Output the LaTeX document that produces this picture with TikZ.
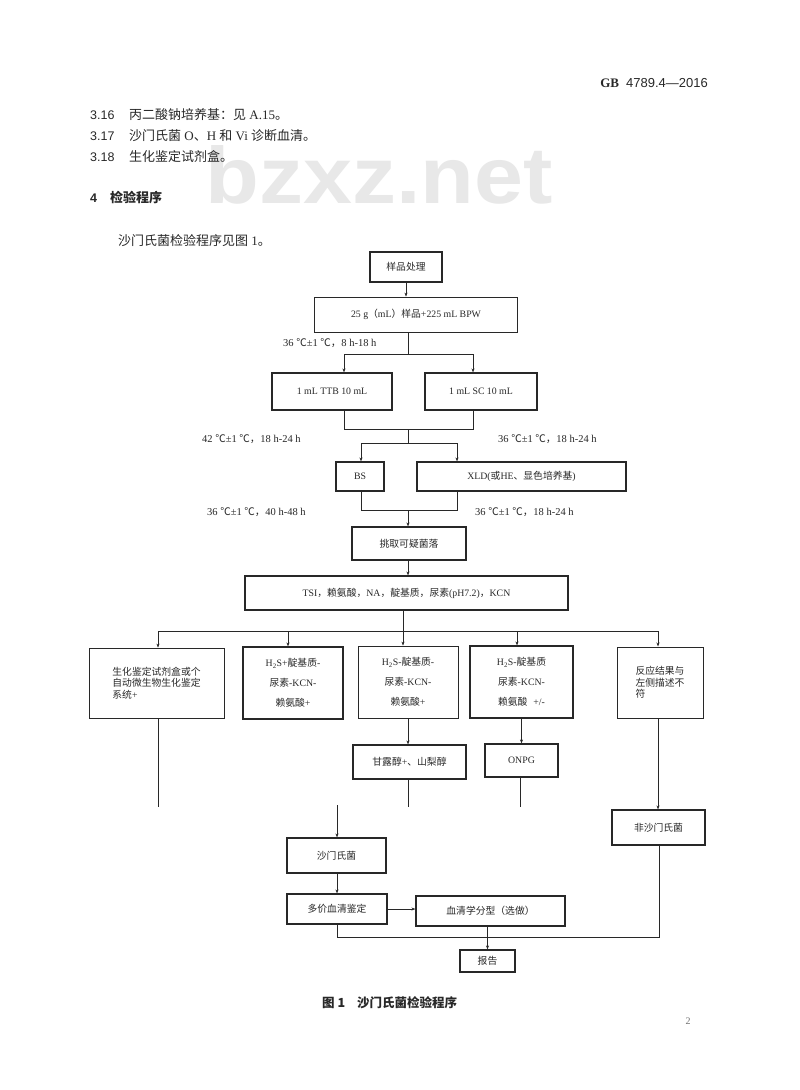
\documentclass[tikz,border=0pt]{standalone}
\usepackage{fontspec}
\setmainfont{Liberation Serif}
\newfontfamily\cjk{Noto Sans CJK SC}
\newfontfamily\arialf{Liberation Sans}
\newcommand\zh[1]{{\cjk #1}}
\usetikzlibrary{arrows.meta}
\definecolor{wm}{RGB}{232,232,232}
\definecolor{ink}{RGB}{40,40,40}
\begin{document}
\begin{tikzpicture}[x=1pt,y=-1pt,
  box/.style={draw=ink, line width=1.2pt, inner sep=1pt, align=center, text=ink,
              font=\fontsize{9.8}{11.5}\selectfont},
  tbox/.style={box, line width=0.8pt},
  tall/.style={font=\fontsize{9.8}{20}\selectfont},
  conn/.style={draw=ink, line width=0.6pt},
  arr/.style={conn, -{Stealth[length=4pt,width=3pt]}},
  lbl/.style={font=\fontsize{10.5}{11}\selectfont, text=ink, inner sep=0pt, anchor=west},
  body/.style={anchor=base west, inner sep=0pt, text=ink, font=\fontsize{13}{13}\selectfont},
  num/.style={anchor=base west, inner sep=0pt, text=ink, font=\arialf\fontsize{12.5}{13}\selectfont},
]
\useasboundingbox[fill=white] (0,0) rectangle (800,1090);

% watermark
\node[anchor=base, inner sep=0pt, text=wm, font=\arialf\bfseries\fontsize{80}{80}\selectfont] (wmk) at (379,203) {\scalebox{1.1}[1]{bzxz.net}};

% header
\node[anchor=base east, inner sep=0pt, text=ink] (hdr) at (708,87) {{\fontsize{13}{13}\selectfont\bfseries GB}\hspace{7pt}{\arialf\fontsize{13}{13}\selectfont 4789.4—2016}};

% section text
\node[num] (n316) at (90,119) {3.16};
\node[body] (t316) at (129,119) {\zh{丙二酸钠培养基：见} A.15\zh{。}};
\node[num] (n317) at (90,140) {3.17};
\node[body] (t317) at (129,140) {\zh{沙门氏菌} O\zh{、}H \zh{和} Vi \zh{诊断血清。}};
\node[num] (n318) at (90,161) {3.18};
\node[body] (t318) at (129,161) {\zh{生化鉴定试剂盒。}};
\node[num, font=\arialf\bfseries\fontsize{12.5}{13}\selectfont] (n4) at (90,202) {4};
\node[body, font=\cjk\bfseries\fontsize{13}{13}\selectfont] (t4) at (110,202) {检验程序};
\node[body] (tref) at (118,245) {\zh{沙门氏菌检验程序见图} 1\zh{。}};

% boxes
\node[box, minimum width=72pt, minimum height=30pt] (prep) at (406,267) {\zh{样品处理}};
\node[tbox, minimum width=203pt, minimum height=35pt] (sample) at (416,314.5) {25 g\zh{（}mL\zh{）样品}+225 mL BPW};
\node[box, minimum width=120pt, minimum height=37pt] (ttb) at (332,391.5) {1 mL TTB 10 mL};
\node[box, minimum width=112pt, minimum height=37pt] (sc) at (481,391.5) {1 mL SC 10 mL};
\node[box, minimum width=48pt, minimum height=29pt] (bs) at (360,476.5) {BS};
\node[box, minimum width=209pt, minimum height=29pt] (xld) at (521.5,476.5) {XLD(\zh{或}HE\zh{、显色培养基})};
\node[box, minimum width=114pt, minimum height=33pt] (pick) at (409,543.5) {\zh{挑取可疑菌落}};
\node[box, minimum width=323pt, minimum height=34pt] (tsi) at (406.5,593) {TSI\zh{，赖氨酸，}NA\zh{，靛基质，尿素}(pH7.2)\zh{，}KCN};

\node[tbox, minimum width=135pt, minimum height=70pt, align=left] (box1) at (156.5,683) {\zh{生化鉴定试剂盒或个}\\\zh{自动微生物生化鉴定}\\\zh{系统}+};
\node[box, tall, minimum width=100pt, minimum height=72pt] (box2) at (293,683) {H\textsubscript{2}S+\zh{靛基质}-\\\zh{尿素}-KCN-\\\zh{赖氨酸}+};
\node[tbox, tall, minimum width=100pt, minimum height=72pt] (box3) at (408,682) {H\textsubscript{2}S-\zh{靛基质}-\\\zh{尿素}-KCN-\\\zh{赖氨酸}+};
\node[box, tall, minimum width=103pt, minimum height=72pt] (box4) at (521.5,682) {H\textsubscript{2}S-\zh{靛基质}\\\zh{尿素}-KCN-\\\zh{赖氨酸}\hspace{6pt}+/-};
\node[box, line width=1pt, minimum width=86pt, minimum height=71pt, align=left] (box5) at (660,682.5) {\zh{反应结果与}\\\zh{左侧描述不}\\\zh{符}};

\node[box, minimum width=113pt, minimum height=34pt] (mann) at (409.5,762) {\zh{甘露醇}+\zh{、山梨醇}};
\node[box, minimum width=73pt, minimum height=33pt] (onpg) at (521.5,760.5) {ONPG};
\node[box, minimum width=93pt, minimum height=35pt] (non) at (658.5,827.5) {\zh{非沙门氏菌}};
\node[box, minimum width=99pt, minimum height=35pt] (salm) at (336.5,855.5) {\zh{沙门氏菌}};
\node[box, minimum width=100pt, minimum height=30pt] (poly) at (337,909) {\zh{多价血清鉴定}};
\node[box, minimum width=149pt, minimum height=30pt] (sero) at (490.5,911) {\zh{血清学分型（选做）}};
\node[box, minimum width=55pt, minimum height=22pt] (report) at (487.5,961) {\zh{报告}};

% condition labels
\node[lbl] (c1) at (283,343) {36 \zh{℃}±1 \zh{℃，}8 h-18 h};
\node[lbl] (c2) at (202,439) {42 \zh{℃}±1 \zh{℃，}18 h-24 h};
\node[lbl] (c3) at (498,439) {36 \zh{℃}±1 \zh{℃，}18 h-24 h};
\node[lbl] (c4) at (207,512) {36 \zh{℃}±1 \zh{℃，}40 h-48 h};
\node[lbl] (c5) at (475,512) {36 \zh{℃}±1 \zh{℃，}18 h-24 h};

% connectors
\draw[arr] (prep.south) -- (prep.south |- sample.north);

\coordinate (s1) at (408,354);
\coordinate (s1l) at (344,354);
\coordinate (s1r) at (473,354);
\draw[conn] (sample.south -| s1) -- (s1);
\draw[conn] (s1l) -- (s1r);
\draw[arr] (s1l) -- (s1l |- ttb.north);
\draw[arr] (s1r) -- (s1r |- sc.north);

\coordinate (m1l) at (344,429);
\coordinate (m1r) at (473,429);
\coordinate (m1) at (408,429);
\coordinate (m2) at (408,443);
\coordinate (m2l) at (361,443);
\coordinate (m2r) at (457,443);
\draw[conn] (ttb.south -| m1l) -- (m1l) -- (m1r) -- (sc.south -| m1r);
\draw[conn] (m1) -- (m2);
\draw[conn] (m2l) -- (m2r);
\draw[arr] (m2l) -- (m2l |- bs.north);
\draw[arr] (m2r) -- (m2r |- xld.north);

\coordinate (m3l) at (361,510);
\coordinate (m3r) at (457,510);
\coordinate (m3) at (408,510);
\draw[conn] (bs.south -| m3l) -- (m3l) -- (m3r) -- (xld.south -| m3r);
\draw[arr] (m3) -- (m3 |- pick.north);
\draw[arr] (pick.south -| m3) -- (tsi.north -| m3);

\coordinate (b0) at (403,631);
\coordinate (b1) at (158,631);
\coordinate (b2) at (288,631);
\coordinate (b4) at (517,631);
\coordinate (b5) at (658,631);
\draw[conn] (tsi.south -| b0) -- (b0);
\draw[conn] (b1) -- (b5);
\draw[arr] (b1) -- (b1 |- box1.north);
\draw[arr] (b2) -- (b2 |- box2.north);
\draw[arr] (b0) -- (b0 |- box3.north);
\draw[arr] (b4) -- (b4 |- box4.north);
\draw[arr] (b5) -- (b5 |- box5.north);

\draw[arr] (box3.south) -- (box3.south |- mann.north);
\draw[arr] (box4.south) -- (box4.south |- onpg.north);

\coordinate (e1) at (158,807);
\coordinate (e3) at (408,807);
\coordinate (e4) at (520,807);
\draw[conn] (box1.south -| e1) -- (e1);
\draw[conn] (mann.south -| e3) -- (e3);
\draw[conn] (onpg.south -| e4) -- (e4);

\coordinate (sa) at (337,805);
\draw[arr] (sa) -- (sa |- salm.north);
\draw[arr] (box5.south -| b5) -- (b5 |- non.north);
\draw[arr] (salm.south -| poly.north) -- (poly.north);
\draw[arr] (poly.east) -- (poly.east -| sero.west);

\coordinate (f1) at (337,937);
\coordinate (f2) at (659,937);
\draw[conn] (poly.south -| f1) -- (f1) -- (f2) -- (f2 |- non.south);
\draw[arr] (report.north |- sero.south) -- (report.north);

% caption and page number
\node[anchor=base west, inner sep=0pt, text=ink, font=\cjk\bfseries\fontsize{12.5}{13}\selectfont] (cap) at (322,1007) {图 1\hspace{12pt}沙门氏菌检验程序};
\node[inner sep=0pt, text=black!55, font=\fontsize{10}{10}\selectfont] (pg) at (688,1021) {2};
\end{tikzpicture}
\end{document}
